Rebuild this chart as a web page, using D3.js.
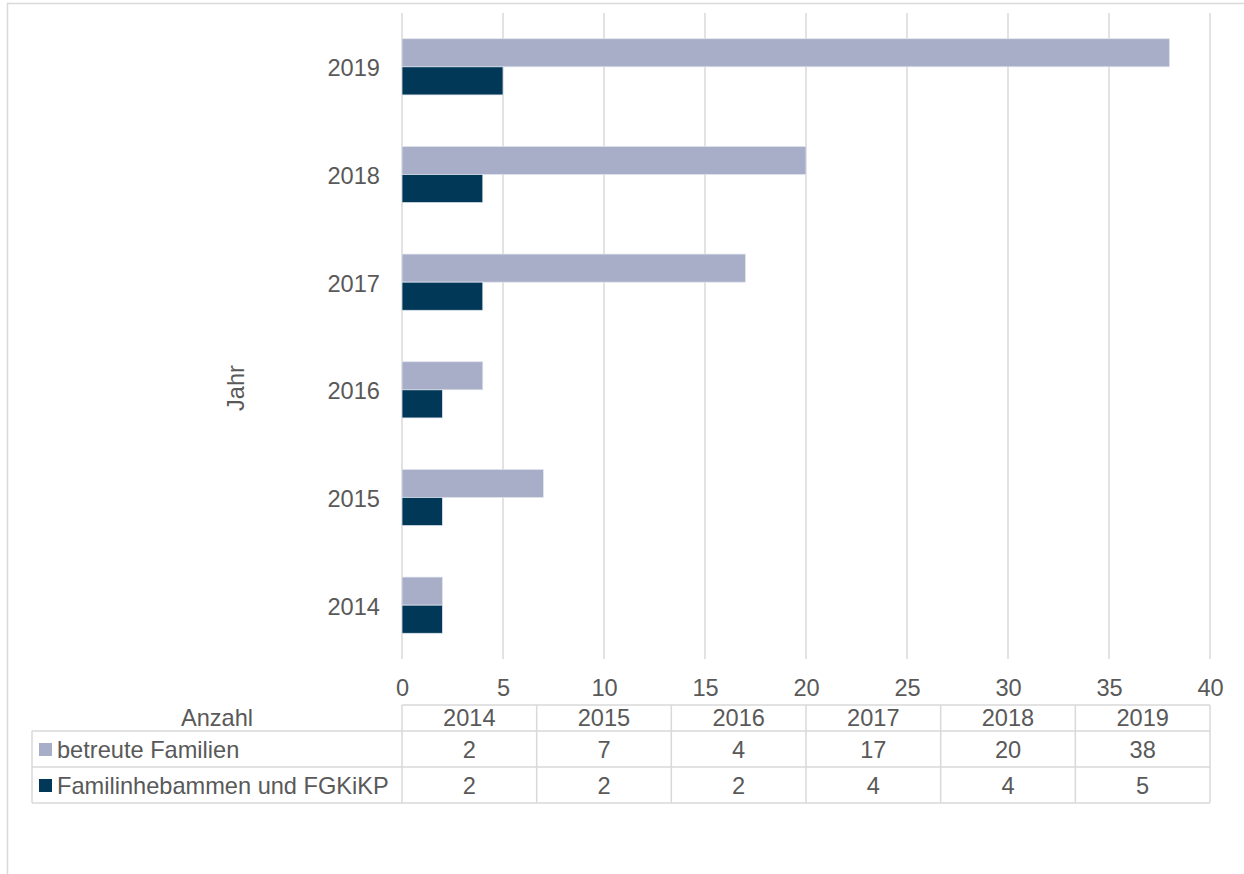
<!DOCTYPE html>
<html>
<head>
<meta charset="utf-8">
<script src="https://cdn.jsdelivr.net/npm/d3@7"></script>
<style>
  html, body { margin: 0; padding: 0; background: #ffffff; }
  svg { display: block; font-family: "Liberation Sans", Arial, sans-serif; }
</style>
</head>
<body>
<svg id="chart" width="1244" height="874"></svg>
<script>
const years = ["2014", "2015", "2016", "2017", "2018", "2019"];
const seriesNames = ["betreute Familien", "Familinhebammen und FGKiKP"];
const betreuteFamilien = [2, 7, 4, 17, 20, 38];
const familienhebammen = [2, 2, 2, 4, 4, 5];
const xTicks = [0, 5, 10, 15, 20, 25, 30, 35, 40];
const seriesColors = ["#a9aec8", "#013757"];

const series = [betreuteFamilien, familienhebammen];
const svg = d3.select("#chart");
const textColor = "#595959";
const gridColor = "#d9d9d9";
const fontSize = 23.6;

// outer chart border (cropped)
svg.append("path")
  .attr("d", "M7.5,880 L7.5,3.5 L1250,3.5")
  .attr("fill", "none").attr("stroke", gridColor).attr("stroke-width", 1.5);

const x = d3.scaleLinear().domain([0, 40]).range([402, 1210]);
const y = d3.scaleBand().domain(years.slice().reverse()).range([13, 659])
  .paddingInner(0.478).paddingOuter(0.239);
const ySub = d3.scaleBand().domain(seriesNames).range([0, y.bandwidth()]);

// gridlines
svg.append("g").selectAll("line").data(xTicks).join("line")
  .attr("x1", d => x(d)).attr("x2", d => x(d))
  .attr("y1", 13).attr("y2", 659)
  .attr("stroke", gridColor).attr("stroke-width", 1.5);

// bars
series.forEach((vals, si) => {
  svg.append("g").selectAll("rect").data(years).join("rect")
    .attr("x", x(0))
    .attr("y", (d) => y(d) + ySub(seriesNames[si]))
    .attr("width", (d, i) => x(vals[i]) - x(0))
    .attr("height", ySub.bandwidth())
    .attr("fill", seriesColors[si])
    .attr("stroke", "#dfe5ee").attr("stroke-width", 0.75);
});

// x axis tick labels
const xAxis = d3.axisBottom(x).tickValues(xTicks).tickSize(0).tickPadding(0);
const gx = svg.append("g").attr("transform", "translate(0,679)").call(xAxis);
gx.select(".domain").remove();
gx.selectAll("text").attr("fill", textColor).style("font-size", fontSize + "px")
  .attr("dy", "0.71em").attr("y", 0);

// y axis labels
const yAxis = d3.axisLeft(y).tickSize(0).tickPadding(22);
const gy = svg.append("g").attr("transform", `translate(${x(0)},2)`).call(yAxis);
gy.select(".domain").remove();
gy.selectAll("text").attr("fill", textColor).style("font-size", fontSize + "px");

// axis title
svg.append("text")
  .attr("transform", "translate(236,388) rotate(-90)")
  .attr("text-anchor", "middle").attr("dominant-baseline", "central")
  .attr("fill", textColor).style("font-size", fontSize + "px")
  .text("Jahr");

// data table
const col = d3.scaleBand().domain(years).range([402, 1210]);
const rowTop = [705, 731, 767, 803];
const tLeft = 32;
const tg = svg.append("g").attr("stroke", gridColor).attr("stroke-width", 1.5).attr("fill", "none");
tg.append("line").attr("x1", 402).attr("x2", 1210).attr("y1", rowTop[0]).attr("y2", rowTop[0]);
[1, 2, 3].forEach(r => {
  tg.append("line").attr("x1", tLeft).attr("x2", 1210).attr("y1", rowTop[r]).attr("y2", rowTop[r]);
});
tg.append("line").attr("x1", tLeft).attr("x2", tLeft).attr("y1", rowTop[1]).attr("y2", rowTop[3]);
years.forEach(yr => {
  tg.append("line").attr("x1", col(yr)).attr("x2", col(yr)).attr("y1", rowTop[0]).attr("y2", rowTop[3]);
});
tg.append("line").attr("x1", 1210).attr("x2", 1210).attr("y1", rowTop[0]).attr("y2", rowTop[3]);

// header
svg.append("text").attr("x", 217).attr("y", (rowTop[0] + rowTop[1]) / 2)
  .attr("text-anchor", "middle").attr("dominant-baseline", "central")
  .attr("fill", textColor).style("font-size", fontSize + "px").text("Anzahl");
svg.append("g").selectAll("text").data(years).join("text")
  .attr("x", d => col(d) + col.bandwidth() / 2)
  .attr("y", (rowTop[0] + rowTop[1]) / 2)
  .attr("text-anchor", "middle").attr("dominant-baseline", "central")
  .attr("fill", textColor).style("font-size", fontSize + "px").text(d => d);

// rows
series.forEach((vals, si) => {
  const cy = (rowTop[si + 1] + rowTop[si + 2]) / 2 + 1;
  svg.append("rect").attr("x", 39).attr("y", cy - 7).attr("width", 13).attr("height", 13)
    .attr("fill", seriesColors[si]);
  svg.append("text").attr("x", 57).attr("y", cy)
    .attr("dominant-baseline", "central")
    .attr("fill", textColor).style("font-size", fontSize + "px").text(seriesNames[si]);
  svg.append("g").selectAll("text").data(years).join("text")
    .attr("x", d => col(d) + col.bandwidth() / 2)
    .attr("y", cy)
    .attr("text-anchor", "middle").attr("dominant-baseline", "central")
    .attr("fill", textColor).style("font-size", fontSize + "px")
    .text((d, i) => vals[i]);
});
</script>
</body>
</html>
